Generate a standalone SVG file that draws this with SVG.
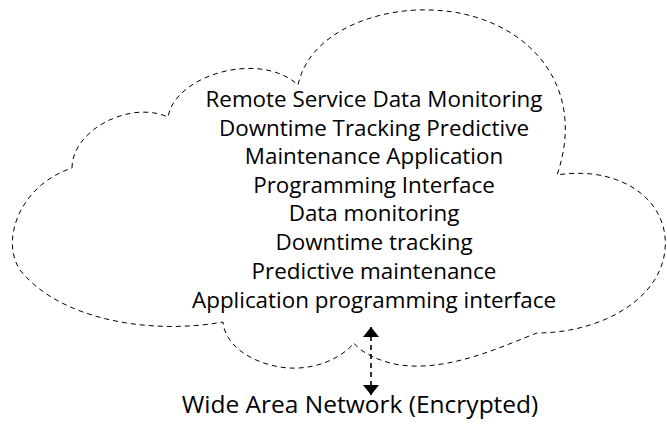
<svg xmlns="http://www.w3.org/2000/svg" width="667" height="427" viewBox="0 0 667 427">
<style>
.cloud{fill:none;stroke:#000;stroke-width:1;stroke-dasharray:5,4}
.t{font-family:"Open Sans","Noto Sans",sans-serif;font-size:22.4px;fill:#000;text-anchor:middle}
.conn{stroke:#000;stroke-width:1.6;stroke-dasharray:5,4;fill:none}
</style>
<defs>
<marker id="ah" viewBox="0 0 10 16" refX="10" refY="8" markerWidth="10" markerHeight="16" markerUnits="userSpaceOnUse" orient="auto-start-reverse">
<path d="M0,0 L10,8 L0,16 Z" fill="#000"/>
</marker>
</defs>
<g id="cloud">
<path class="cloud" d="M72,168 C72,130 130,100 168,117 C175,75 260,50 298,85 C310,30 380,8 430,10 C520,12 590,80 557,175 C620,165 670,200 665,250 C660,300 600,333 537,333 C505,345 450,372 400,365 C380,362 360,352 354,343 C340,360 310,372 280,367 C250,362 225,345 223,322 C150,335 60,320 20,270 C0,240 20,185 72,168 Z"/>
<text class="t" x="374" y="107">Remote Service Data Monitoring</text>
<text class="t" x="374" y="136">Downtime Tracking Predictive</text>
<text class="t" x="374" y="164">Maintenance Application</text>
<text class="t" x="374" y="193">Programming Interface</text>
<text class="t" x="374" y="221">Data monitoring</text>
<text class="t" x="374" y="250">Downtime tracking</text>
<text class="t" x="374" y="279">Predictive maintenance</text>
<text class="t" x="374" y="308">Application programming interface</text>
</g>
<g id="wan">
<text class="t" x="360" y="413" style="font-size:24.5px">Wide Area Network (Encrypted)</text>
</g>
<g id="connectors">
<line class="conn" x1="371" y1="327" x2="371" y2="395" marker-start="url(#ah)" marker-end="url(#ah)"/>
</g>
</svg>
